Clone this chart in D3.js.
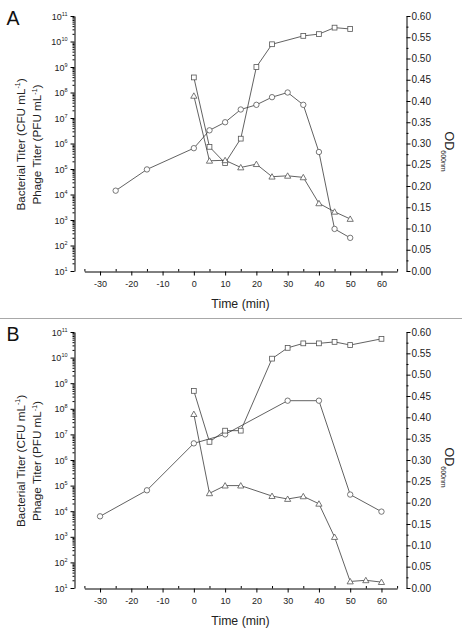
<!DOCTYPE html>
<html><head><meta charset="utf-8">
<script src="https://cdn.jsdelivr.net/npm/d3@7"></script>
<style>
body{margin:0;background:#fff}
svg{display:block;font-family:"Liberation Sans",Arial,Helvetica,sans-serif}
</style>
</head><body><svg id="chart" width="462" height="639"></svg>
<script>
// ---- shared ticks ----
const xMajorTicks = [-30,-20,-10,0,10,20,30,40,50,60];
const xMinorTicks = [-35,-25,-15,-5,5,15,25,35,45,55,65];
const odMajorTicks = [0,0.05,0.10,0.15,0.20,0.25,0.30,0.35,0.40,0.45,0.50,0.55,0.60];
const titerDecades = [1,2,3,4,5,6,7,8,9,10,11];

// ---- Panel A ----
const aCircleTime = [-25,-15,0,5,10,15,20,25,30,35,40,45,50];
const aCircleOD = [0.189,0.239,0.289,0.331,0.350,0.380,0.391,0.409,0.420,0.391,0.280,0.099,0.078];
const aSquareTime = [0,5,10,15,20,25,35,40,45,50];
const aSquareTiter = [3.9e8,7.4e5,1.7e5,1.55e6,1.0e9,7.8e9,1.66e10,1.95e10,3.5e10,3.1e10];
const aTriangleTime = [0,5,10,15,20,25,30,35,40,45,50];
const aTriangleTiter = [7.4e7,2.1e5,2.2e5,1.15e5,1.55e5,5.0e4,5.4e4,4.7e4,4.5e3,2.1e3,1.1e3];

// ---- Panel B ----
const bCircleTime = [-30,-15,0,10,30,40,50,60];
const bCircleOD = [0.168,0.229,0.339,0.360,0.439,0.439,0.219,0.179];
const bSquareTime = [0,5,10,15,25,30,35,40,45,50,60];
const bSquareTiter = [5.0e8,5.1e6,1.4e7,1.4e7,9.1e9,2.4e10,3.6e10,3.6e10,4.1e10,3.1e10,5.4e10];
const bTriangleTime = [0,5,10,15,25,30,35,40,45,50,55,60];
const bTriangleTiter = [6.2e7,5.0e4,1.0e5,1.0e5,3.9e4,3.0e4,3.8e4,1.95e4,9.8e2,18,20,17];

const svg = d3.select("#chart");

// separator
svg.append("line").attr("x1",0).attr("x2",462).attr("y1",318.5).attr("y2",318.5)
  .attr("stroke","#a8a8a8").attr("stroke-width",1.2);

function styleAxis(g){
  g.attr("font-family",null).attr("font-size",null);
  g.selectAll("path.domain").attr("stroke","#000").attr("stroke-width",1);
  g.selectAll(".tick line").attr("stroke","#000").attr("stroke-width",1);
}

function drawPanel(cfg){
  const top = cfg.top, bottom = cfg.bottom;
  const x = d3.scaleLinear().domain([-35,65]).range([84.4,397.1]);
  const yL = d3.scaleLog().domain([10,1e11]).range([bottom, top]);
  const yR = d3.scaleLinear().domain([0,0.6]).range([bottom, top]);
  const g = svg.append("g");

  // panel letter
  g.append("text").attr("x",6.5).attr("y",top+8.5).attr("font-size",19.5).attr("fill","#111").text(cfg.letter);

  // left minor ticks (log)
  const minors = [];
  for (let e=1;e<11;e++) for (let m=2;m<=9;m++) minors.push(m*Math.pow(10,e));
  const gLm = g.append("g").attr("transform","translate(74.5,0)")
    .call(d3.axisLeft(yL).tickValues(minors).tickSize(2).tickFormat(""));
  gLm.select(".domain").remove(); styleAxis(gLm);
  const gL = g.append("g").attr("transform","translate(74.5,0)")
    .call(d3.axisLeft(yL).tickValues(titerDecades.map(e=>Math.pow(10,e))).tickSize(4).tickSizeOuter(0).tickPadding(3).tickFormat(""));
  styleAxis(gL);
  gL.selectAll(".tick").each(function(d){
    const t = d3.select(this).select("text");
    t.text(null).attr("font-size",9).attr("fill","#222").attr("dy","0.34em").attr("x",-7);
    const e = Math.round(Math.log10(d));
    t.append("tspan").text("10");
    t.append("tspan").attr("font-size",5.5).attr("dy",-4).text(e);
  });

  // right axis OD
  const odMinors = odMajorTicks.slice(0,-1).map(v=>v+0.025);
  const gRm = g.append("g").attr("transform","translate(406.5,0)")
    .call(d3.axisRight(yR).tickValues(odMinors).tickSize(2).tickFormat(""));
  gRm.select(".domain").remove(); styleAxis(gRm);
  const gR = g.append("g").attr("transform","translate(406.5,0)")
    .call(d3.axisRight(yR).tickValues(odMajorTicks).tickSize(4).tickSizeOuter(0).tickPadding(1).tickFormat(d=>d.toFixed(2)));
  styleAxis(gR);
  gR.selectAll(".tick text").attr("font-size",10).attr("fill","#222");

  // x axis
  const gXm = g.append("g").attr("transform",`translate(0,${bottom+0.5})`)
    .call(d3.axisBottom(x).tickValues(xMinorTicks).tickSize(-2.5).tickFormat(""));
  gXm.select(".domain").remove(); styleAxis(gXm);
  const gX = g.append("g").attr("transform",`translate(0,${bottom+0.5})`)
    .call(d3.axisBottom(x).tickValues(xMajorTicks).tickSize(4).tickSizeOuter(0).tickPadding(5.5).tickFormat(d=>String(d)));
  styleAxis(gX);
  gX.selectAll(".tick text").attr("font-size",9).attr("fill","#222");

  // axis titles
  g.append("text").attr("x",240.5).attr("y",bottom+37).attr("text-anchor","middle")
    .attr("font-size",12.3).attr("fill","#222").text("Time (min)");

  const cy = (top+bottom)/2 + 1;
  const l1 = g.append("text").attr("transform",`translate(24.5,${cy}) rotate(-90)`)
    .attr("text-anchor","middle").attr("font-size",11.7).attr("fill","#222");
  l1.append("tspan").text("Bacterial Titer (CFU mL");
  l1.append("tspan").attr("font-size",7).attr("dy",-4.5).text("-1");
  l1.append("tspan").attr("dy",4.5).text(")");
  const l2 = g.append("text").attr("transform",`translate(41,${cy}) rotate(-90)`)
    .attr("text-anchor","middle").attr("font-size",11.7).attr("fill","#222");
  l2.append("tspan").text("Phage Titer (PFU mL");
  l2.append("tspan").attr("font-size",7).attr("dy",-4.5).text("-1");
  l2.append("tspan").attr("dy",4.5).text(")");

  const od = g.append("text").attr("transform",`translate(444.5,${top+115.5}) rotate(90)`)
    .attr("font-size",12.5).attr("fill","#222");
  od.append("tspan").text("OD");
  od.append("tspan").attr("font-size",7).attr("dy",4).text("600nm");

  // series
  const lineStroke = "#3a3a3a", markStroke = "#555";
  function series(times, vals, yScale, shape){
    const pts = times.map((t,i)=>[x(t), yScale(vals[i])]);
    g.append("path").attr("d", d3.line()(pts)).attr("fill","none")
      .attr("stroke",lineStroke).attr("stroke-width",0.8);
    const m = g.append("g");
    pts.forEach(p=>{
      let el;
      if (shape==="circle") el = m.append("circle").attr("cx",p[0]).attr("cy",p[1]).attr("r",2.7);
      else if (shape==="square") el = m.append("rect").attr("x",p[0]-2.4).attr("y",p[1]-2.4).attr("width",4.8).attr("height",4.8);
      else el = m.append("path").attr("d",`M${p[0]},${p[1]-3} L${p[0]+3.1},${p[1]+2.4} L${p[0]-3.1},${p[1]+2.4} Z`);
      el.attr("fill","#fff").attr("stroke",markStroke).attr("stroke-width",0.8);
    });
  }
  series(cfg.cT, cfg.cV, yR, "circle");
  series(cfg.sT, cfg.sV, yL, "square");
  series(cfg.tT, cfg.tV, yL, "triangle");
}

drawPanel({letter:"A", top:16, bottom:271,
  cT:aCircleTime, cV:aCircleOD, sT:aSquareTime, sV:aSquareTiter, tT:aTriangleTime, tV:aTriangleTiter});
drawPanel({letter:"B", top:332, bottom:588,
  cT:bCircleTime, cV:bCircleOD, sT:bSquareTime, sV:bSquareTiter, tT:bTriangleTime, tV:bTriangleTiter});
</script>
</body></html>
